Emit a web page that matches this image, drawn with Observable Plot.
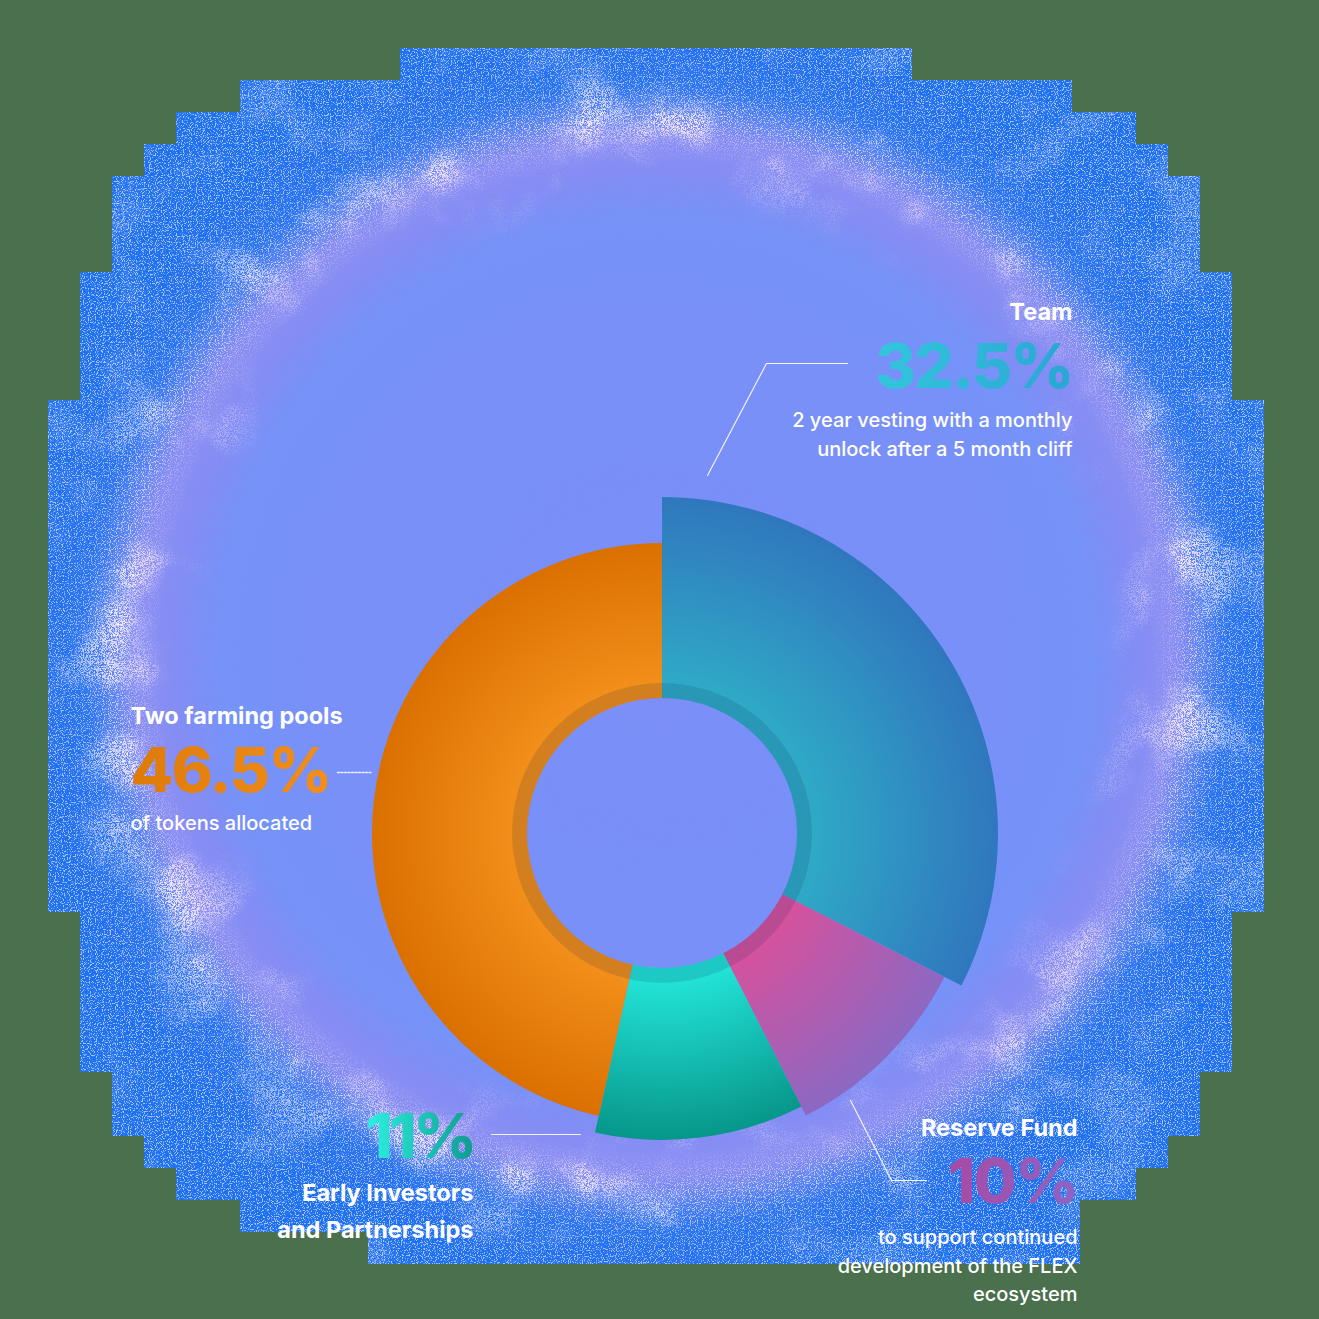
<!DOCTYPE html>
<html>
<head>
<meta charset="utf-8">
<script src="https://cdn.jsdelivr.net/npm/d3@7"></script>
<script src="https://cdn.jsdelivr.net/npm/@observablehq/plot@0.6"></script>
<style>
  html, body { margin: 0; padding: 0; background: #4a704e; }
  #chart svg { display: block; }
</style>
</head>
<body>
<div id="chart"></div>
<script>
// ---------------- data ----------------
const categories = ["Team", "Reserve Fund", "Early Investors and Partnerships", "Two farming pools"];
const shares = [32.5, 10, 11, 46.5];
const titleLines = [["Team"], ["Reserve Fund"], ["Early Investors", "and Partnerships"], ["Two farming pools"]];
const noteLines = [
  ["2 year vesting with a monthly", "unlock after a 5 month cliff"],
  ["to support continued", "development of the FLEX", "ecosystem"],
  [],
  ["of tokens allocated"]
];

// ---------------- styling / layout (not data) ----------------
const W = 1319, H = 1319;
const CENTER = {x: 662, y: 833};
const INNER_R = 135, RING_R = 150;
const OUTER_R = [336, 317, 307, 290];
const SLICE_COLORS = [
  ["#2fa9c6", "#3077bd"],
  ["#d4529e", "#8c68c2"],
  ["#22e2d6", "#07968a"],
  ["#f28e1a", "#da7000"]
];
const VALUE_COLORS = [
  ["#33c6dc", "#2aa6d4"],
  ["#a84aa4", "#8c64c4"],
  ["#2ef2e2", "#0f9c8e"],
  ["#de7a08", "#f28e1c"]
];
const VALUE_FONT_SIZE = 62;
const VALUE_TRACKING = [-1.8, -1.5, -3.5, -1.5];
// label layout: anchor x, text anchor, baselines
const LAYOUT = [
  {x: 1072, anchor: "end", title: [319], value: 387, note: [426, 455]},
  {x: 1077, anchor: "end", title: [1135], value: 1202, note: [1243, 1272, 1300]},
  {x: 473, anchor: "end", title: [1200, 1237], value: 1157, note: []},
  {x: 130, anchor: "start", title: [723], value: 791, note: [829]}
];
const LEADERS = [
  {id: 0, pts: [[707, 475], [766, 363], [847, 363]]},
  {id: 1, pts: [[850, 1100], [891, 1180], [926, 1180]]},
  {id: 2, pts: [[491, 1134], [580, 1134]]}
];
const DOTTED_LEADERS = [{id: 3, pts: [[337, 772], [371, 772]]}];
// stepped glow outline rows: [y0, y1, x0, x1]
const BLOB_ROWS = [
  [48, 80, 400, 912], [80, 112, 240, 1072], [112, 144, 176, 1136], [144, 176, 144, 1168],
  [176, 272, 112, 1200], [272, 400, 80, 1232], [400, 912, 48, 1264], [912, 1072, 80, 1232],
  [1072, 1136, 112, 1200], [1136, 1168, 144, 1168], [1168, 1200, 176, 1136], [1200, 1232, 240, 1080],
  [1232, 1264, 368, 1080]
];
const BLOB_C = {x: 656, y: 656, r: 620};

const table = categories.map((c, i) => ({category: c, share: shares[i], i}));

// ---------------- background glow mark ----------------
function blobMark(index, scales) {
  const X = scales.x, Y = scales.y;
  const cx = X(BLOB_C.x), cy = Y(BLOB_C.y), r = X(BLOB_C.r) - X(0);
  const g = d3.create("svg:g");
  const defs = g.append("defs");
  const clip = defs.append("clipPath").attr("id", "blob-clip");
  BLOB_ROWS.forEach(([y0, y1, x0, x1]) => {
    clip.append("rect").attr("x", X(x0)).attr("y", Y(y0))
      .attr("width", X(x1) - X(x0)).attr("height", Y(y1) - Y(y0));
  });
  const radial = (id, stops) => {
    const rg = defs.append("radialGradient").attr("id", id).attr("gradientUnits", "userSpaceOnUse")
      .attr("cx", cx).attr("cy", cy).attr("r", r);
    stops.forEach(([o, c, a = 1]) => rg.append("stop").attr("offset", o).attr("stop-color", c).attr("stop-opacity", a));
  };
  radial("blob-grad", [[0, "#7b8ff8"], [0.55, "#7890f8"], [0.7, "#7493f9"], [0.77, "#828df4"],
    [0.84, "#8d8ff2"], [0.88, "#5a84f4"], [0.92, "#2a74f2"], [1, "#1f6ff1"]]);
  radial("cloud-grad", [[0, "#f4e4fb", 0], [0.72, "#f2e2fb", 0], [0.8, "#f2e2fb", 0.5],
    [0.86, "#f6e8fc", 1], [0.91, "#f6e8fc", 0.7], [0.97, "#f6e8fc", 0.35], [1, "#f6e8fc", 0.3]]);
  radial("speck-mask-grad", [[0, "#000"], [0.8, "#000"], [0.87, "#aaa"], [0.93, "#8a8a8a"], [1, "#a0a0a0"]]);

  const full = (f) => f.attr("filterUnits", "userSpaceOnUse").attr("x", 0).attr("y", 0).attr("width", W).attr("height", H);

  const grain = full(defs.append("filter").attr("id", "grain"));
  grain.append("feTurbulence").attr("type", "fractalNoise").attr("baseFrequency", 0.9)
    .attr("numOctaves", 2).attr("seed", 4).attr("result", "n");
  grain.append("feDisplacementMap").attr("in", "SourceGraphic").attr("in2", "n")
    .attr("scale", 50).attr("xChannelSelector", "R").attr("yChannelSelector", "G");

  const cloud = full(defs.append("filter").attr("id", "cloud"));
  cloud.append("feTurbulence").attr("type", "fractalNoise").attr("baseFrequency", 0.013)
    .attr("numOctaves", 3).attr("seed", 11).attr("result", "low");
  cloud.append("feColorMatrix").attr("in", "low").attr("type", "matrix")
    .attr("values", "0 0 0 0 0  0 0 0 0 0  0 0 0 0 0  5 0 0 0 -2.6").attr("result", "lowA");
  cloud.append("feTurbulence").attr("type", "fractalNoise").attr("baseFrequency", 0.9)
    .attr("numOctaves", 1).attr("seed", 21).attr("result", "hi");
  cloud.append("feColorMatrix").attr("in", "hi").attr("type", "matrix")
    .attr("values", "0 0 0 0 0  0 0 0 0 0  0 0 0 0 0  9 0 0 0 -4.1").attr("result", "hiA");
  cloud.append("feComposite").attr("in", "SourceGraphic").attr("in2", "lowA").attr("operator", "in").attr("result", "patch");
  cloud.append("feComposite").attr("in", "patch").attr("in2", "hiA").attr("operator", "in").attr("result", "dots");
  cloud.append("feDisplacementMap").attr("in", "dots").attr("in2", "hi")
    .attr("scale", 20).attr("xChannelSelector", "R").attr("yChannelSelector", "G");

  const speck = full(defs.append("filter").attr("id", "speck"));
  speck.append("feTurbulence").attr("type", "fractalNoise").attr("baseFrequency", 0.85)
    .attr("numOctaves", 1).attr("seed", 9).attr("result", "n");
  speck.append("feColorMatrix").attr("in", "n").attr("type", "matrix")
    .attr("values", "0 0 0 0 0.98  0 0 0 0 0.93  0 0 0 0 1  11 0 0 0 -5.9");
  defs.append("mask").attr("id", "speck-mask").append("rect")
    .attr("x", 0).attr("y", 0).attr("width", W).attr("height", H).attr("fill", "url(#speck-mask-grad)");

  // value gradients
  VALUE_COLORS.forEach(([a, b], i) => {
    const lg = defs.append("linearGradient").attr("id", "value-grad-" + i)
      .attr("x1", 0).attr("x2", 1).attr("y1", 0).attr("y2", 0);
    lg.append("stop").attr("offset", 0).attr("stop-color", a);
    lg.append("stop").attr("offset", 1).attr("stop-color", b);
  });
  const body = g.append("g").attr("clip-path", "url(#blob-clip)");
  body.append("rect").attr("x", 0).attr("y", 0).attr("width", W).attr("height", H)
    .attr("fill", "url(#blob-grad)").attr("filter", "url(#grain)");
  body.append("rect").attr("x", 0).attr("y", 0).attr("width", W).attr("height", H)
    .attr("fill", "url(#cloud-grad)").attr("filter", "url(#cloud)");
  body.append("g").attr("mask", "url(#speck-mask)").append("rect")
    .attr("x", 0).attr("y", 0).attr("width", W).attr("height", H).attr("filter", "url(#speck)");
  return g.node();
}

// ---------------- donut mark ----------------
function donutMark(index, scales) {
  const cx = scales.x(CENTER.x), cy = scales.y(CENTER.y);
  const k = Math.abs(scales.x(1) - scales.x(0));
  const arcs = d3.pie().sort(null).value((d) => d.share)(table);
  const g = d3.create("svg:g").attr("transform", `translate(${cx},${cy})`);
  const defs = g.append("defs");
  arcs.forEach((p) => {
    const i = p.data.i;
    const R = OUTER_R[i] * k;
    const id = "slice-grad-" + i;
    const gr = defs.append("radialGradient").attr("id", id).attr("gradientUnits", "userSpaceOnUse")
      .attr("cx", 0).attr("cy", 0).attr("r", R);
    gr.append("stop").attr("offset", (RING_R * k) / R).attr("stop-color", SLICE_COLORS[i][0]);
    gr.append("stop").attr("offset", 1).attr("stop-color", SLICE_COLORS[i][1]);
    g.append("path").attr("d", d3.arc().innerRadius(INNER_R * k).outerRadius(R)(p))
      .attr("fill", `url(#${id})`);
  });
  g.append("path")
    .attr("d", d3.arc().innerRadius(INNER_R * k).outerRadius(RING_R * k).startAngle(0).endAngle(2 * Math.PI)())
    .attr("fill", "#06204a").attr("fill-opacity", 0.13);
  return g.node();
}

// ---------------- text rows ----------------
const titleRows = [], noteRows = [], valueRows = [];
table.forEach((d) => {
  const L = LAYOUT[d.i];
  titleLines[d.i].forEach((t, j) => titleRows.push({text: t, x: L.x, y: L.title[j], anchor: L.anchor}));
  noteLines[d.i].forEach((t, j) => noteRows.push({text: t, x: L.x, y: L.note[j], anchor: L.anchor}));
  valueRows.push({text: `${d3.format("~")(d.share)}%`, x: L.x, y: L.value, anchor: L.anchor, i: d.i});
});
const leaderPts = LEADERS.flatMap((l) => l.pts.map(([x, y]) => ({id: l.id, x, y})));
const dottedPts = DOTTED_LEADERS.flatMap((l) => l.pts.map(([x, y]) => ({id: l.id, x, y})));

const textMarks = [];
for (const anchor of ["start", "end"]) {
  textMarks.push(Plot.text(titleRows.filter((r) => r.anchor === anchor), {
    x: "x", y: "y", text: "text", textAnchor: anchor, lineAnchor: "bottom",
    fill: "white", fontFamily: "Inter", fontWeight: 700, fontSize: 23.5
  }));
  textMarks.push(Plot.text(noteRows.filter((r) => r.anchor === anchor), {
    x: "x", y: "y", text: "text", textAnchor: anchor, lineAnchor: "bottom",
    fill: "white", fontFamily: "Inter", fontWeight: 500, fontSize: 20
  }));
}
valueRows.forEach((r) => {
  textMarks.push(Plot.text([r], {
    x: "x", y: "y", text: "text", textAnchor: r.anchor, lineAnchor: "bottom",
    fill: `url(#value-grad-${r.i})`, fontFamily: "Inter", fontWeight: 800, fontSize: VALUE_FONT_SIZE
  }));
});

const chart = Plot.plot({
  width: W, height: H,
  margin: 0,
  style: {background: "#4a704e", overflow: "visible"},
  x: {domain: [0, W], range: [0, W], axis: null},
  y: {domain: [0, H], range: [0, H], axis: null},
  marks: [
    blobMark,
    donutMark,
    Plot.line(leaderPts, {x: "x", y: "y", z: "id", stroke: "white", strokeWidth: 1.2, strokeOpacity: 0.9}),
    Plot.line(dottedPts, {x: "x", y: "y", z: "id", stroke: "white", strokeWidth: 1.5, strokeDasharray: "2,1.5", strokeOpacity: 0.85}),
    ...textMarks
  ]
});
// tighten tracking of the big percentage figures
chart.querySelectorAll("text").forEach((t) => {
  const f = t.getAttribute("fill") || (t.parentNode && t.parentNode.getAttribute("fill")) || "";
  const m = /value-grad-(\d)/.exec(f);
  if (m) t.setAttribute("letter-spacing", VALUE_TRACKING[+m[1]]);
});
document.getElementById("chart").appendChild(chart);
</script>
</body>
</html>
